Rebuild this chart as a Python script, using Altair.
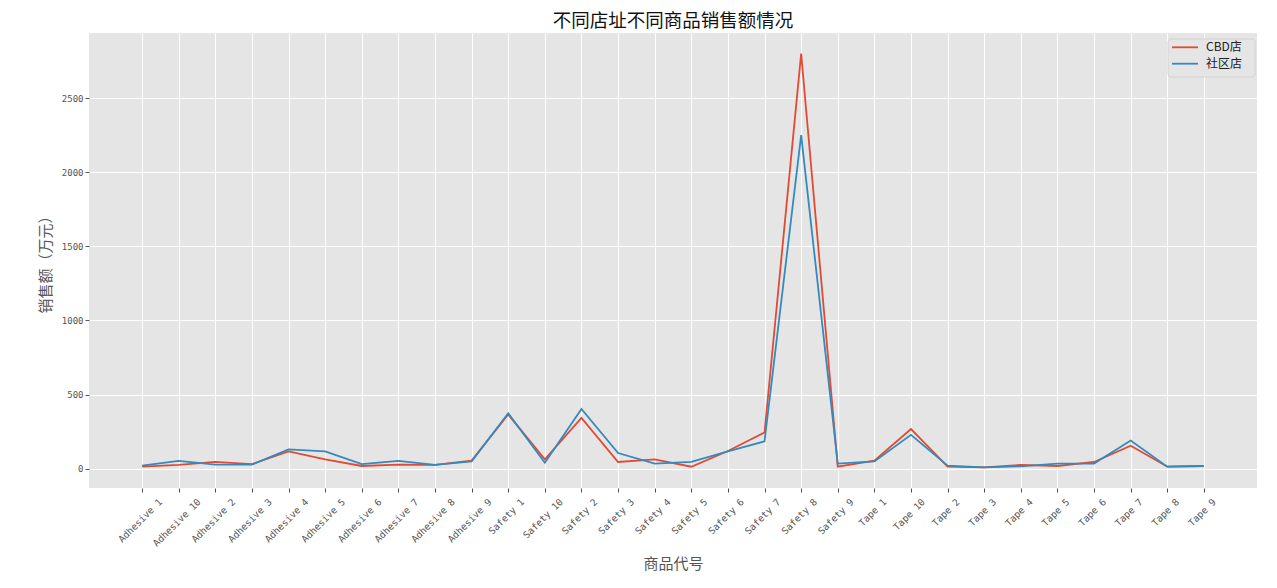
import altair as alt
import pandas as pd

products = [
    "Adhesive 1", "Adhesive 10", "Adhesive 2", "Adhesive 3", "Adhesive 4",
    "Adhesive 5", "Adhesive 6", "Adhesive 7", "Adhesive 8", "Adhesive 9",
    "Safety 1", "Safety 10", "Safety 2", "Safety 3", "Safety 4",
    "Safety 5", "Safety 6", "Safety 7", "Safety 8", "Safety 9",
    "Tape 1", "Tape 10", "Tape 2", "Tape 3", "Tape 4",
    "Tape 5", "Tape 6", "Tape 7", "Tape 8", "Tape 9",
]
cbd_sales = [13, 25, 45, 31, 116, 63, 18, 27, 25, 54,
             365, 63, 343, 45, 63, 13, 119, 244, 2800, 13,
             54, 267, 13, 9, 25, 18, 45, 155, 13, 18]
community_sales = [20, 52, 27, 27, 130, 116, 31, 52, 25, 49,
                   374, 40, 403, 105, 34, 45, 116, 184, 2250, 34,
                   49, 228, 20, 9, 16, 34, 34, 190, 13, 18]
series_names = ["CBD店", "社区店"]
series_colors = ["#E24A33", "#348ABD"]
y_ticks = [0, 500, 1000, 1500, 2000, 2500]

rows = []
for name, vals in zip(series_names, [cbd_sales, community_sales]):
    for i, (p, v) in enumerate(zip(products, vals)):
        rows.append({"idx": i, "product": p, "sales": v, "store": name})
df = pd.DataFrame(rows)
legend_df = pd.DataFrame({"store": series_names})

CJK = "Noto Sans CJK SC"
TICKF = "DejaVu Sans Mono"
n = len(products)
margin = 0.05 * (n - 1)
names_js = "[" + ",".join('"%s"' % p for p in products) + "]"
lens_js = "[" + ",".join(str(len(p)) for p in products) + "]"

color_scale = alt.Scale(domain=series_names, range=series_colors)

lines = alt.Chart(df).mark_line(strokeWidth=1.8).encode(
    x=alt.X(
        "idx:Q",
        scale=alt.Scale(domain=[-margin, n - 1 + margin], nice=False, zero=False),
        axis=alt.Axis(
            values=list(range(n)),
            labelExpr=names_js + "[datum.value]",
            title="商品代号",
            titleFont=CJK, titleFontSize=15, titleFontWeight="normal",
            titleColor="#555555",
            titleX=584, titleY=75, titleBaseline="middle", titleAlign="center",
            labelFont=TICKF, labelFontSize=9.5, labelColor="#555555",
            labelAngle=-45, labelAlign="right", labelBaseline="middle",
            labelOffset={"expr": lens_js + "[datum.value] * 2.0 - 2"},
            labelPadding=8, labelOverlap=False, labelBound=False, labelFlush=False,
            tickColor="#555555", tickSize=4, tickWidth=1,
            domain=False, grid=True, gridColor="white", gridWidth=1,
        ),
    ),
    y=alt.Y(
        "sales:Q",
        scale=alt.Scale(domain=[-130.6, 2939.6], nice=False, zero=False),
        axis=alt.Axis(
            values=y_ticks, format="d",
            title="销售额（万元）",
            titleFont=CJK, titleFontSize=15, titleFontWeight="normal",
            titleColor="#555555",
            titleX=-44, titleY=227.5, titleAngle=-90,
            titleBaseline="middle", titleAlign="center",
            labelFont=TICKF, labelFontSize=9, labelColor="#555555",
            labelPadding=2,
            tickColor="#555555", tickSize=4, tickWidth=1,
            domain=False, grid=True, gridColor="white", gridWidth=1,
        ),
    ),
    color=alt.Color("store:N", scale=color_scale, legend=None),
)

legend_box = alt.Chart(alt.Data(values=[{"k": 1}])).mark_rect(
    fill="#E5E5E5", stroke="#D2D2D2", strokeWidth=1, cornerRadius=3,
).encode(
    x=alt.value(1079), x2=alt.value(1166),
    y=alt.value(6), y2=alt.value(44),
)

legend_y = alt.Y(
    "store:N",
    scale=alt.Scale(type="point", domain=series_names, range=[14.3, 30.7], padding=0),
    axis=None,
)

legend_lines = alt.Chart(legend_df).mark_rule(strokeWidth=1.8).encode(
    x=alt.value(1083), x2=alt.value(1109),
    y=legend_y,
    color=alt.Color("store:N", scale=color_scale, legend=None),
)

legend_text = alt.Chart(legend_df).mark_text(
    align="left", baseline="middle", font=CJK, fontSize=12, color="#222222",
).encode(
    x=alt.value(1117),
    y=legend_y,
    text="store:N",
)

chart = alt.layer(lines, legend_box, legend_lines, legend_text).resolve_scale(
    y="independent"
).properties(
    width=1168,
    height=455,
    title=alt.TitleParams(
        "不同店址不同商品销售额情况",
        font=CJK, fontSize=18.5, fontWeight="normal", color="#111111",
        anchor="middle", offset=3,
    ),
    padding={"left": 81, "top": 25, "right": 12, "bottom": 90},
    autosize=alt.AutoSizeParams(type="none"),
).configure(
    background="white",
).configure_view(
    fill="#E5E5E5", stroke=None,
)

chart.save("out.html", embed_options={"renderer": "svg", "actions": False})
